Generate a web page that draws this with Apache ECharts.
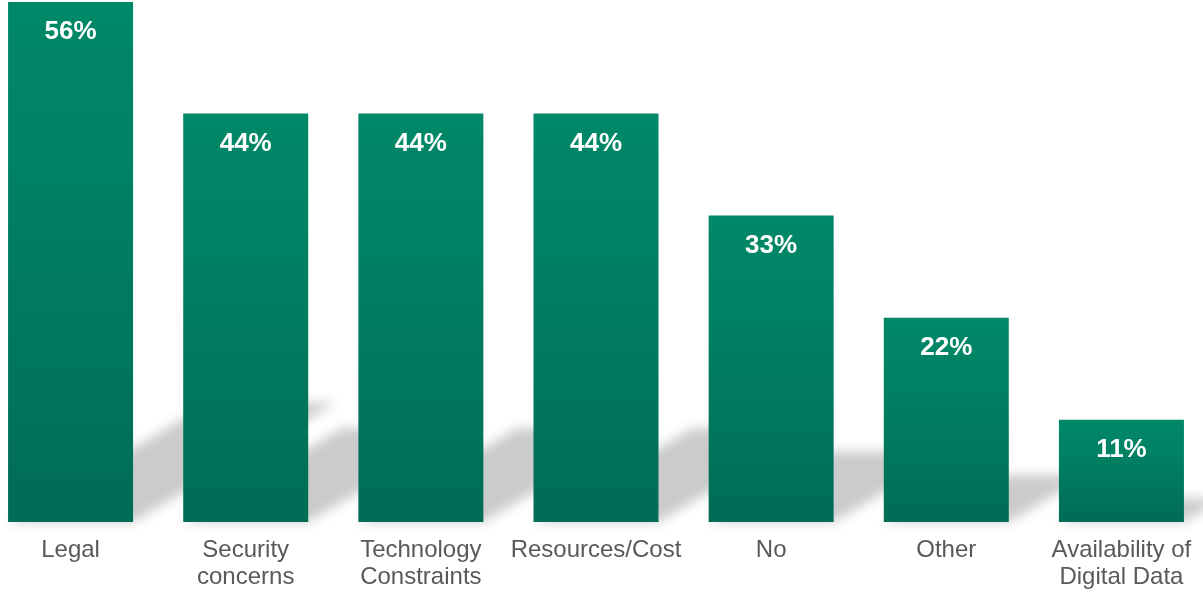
<!DOCTYPE html>
<html>
<head>
<meta charset="utf-8">
<script src="https://cdn.jsdelivr.net/npm/echarts@6/dist/echarts.min.js"></script>
<style>
  html, body { margin: 0; padding: 0; background: #ffffff; }
  #chart { width: 1203px; height: 592px; }
</style>
</head>
<body>
<div id="chart"></div>
<script>
// Reported barriers, share of respondents (%)
const categories = [
  'Legal',
  'Security\nconcerns',
  'Technology\nConstraints',
  'Resources/Cost',
  'No',
  'Other',
  'Availability of\nDigital Data'
];
const shares = [56, 44, 44, 44, 33, 22, 11];

const BAR_WIDTH = 125;
// Floor shadow geometry: horizontal drift and vertical squash relative to bar height
const SHADOW_DRIFT = 0.39;
const SHADOW_SQUASH = 0.23;
// The shadow shape is drawn off-canvas and only its blurred shadow is shifted back in view
const OFFSET = 3000;

const chart = echarts.init(document.getElementById('chart'), null, { renderer: 'canvas' });

function renderShadow(params, api) {
  const idx = api.value(0);
  const val = api.value(1);
  const base = api.coord([idx, 0]);
  const top = api.coord([idx, val]);
  const h = base[1] - top[1];
  const half = BAR_WIDTH / 2;
  const L = base[0] - half;
  const R = base[0] + half;
  const B = base[1];
  const dx = SHADOW_DRIFT * h;
  const dy = SHADOW_SQUASH * h;
  const pts = [
    [L + OFFSET, B],
    [R + OFFSET, B],
    [R + dx + OFFSET, B - dy],
    [L + dx + OFFSET, B - dy]
  ];
  return {
    type: 'polygon',
    shape: { points: pts },
    style: {
      fill: '#cccccc',
      shadowColor: '#cbcbcb',
      shadowBlur: 12,
      shadowOffsetX: -OFFSET,
      shadowOffsetY: 0
    },
    silent: true
  };
}

const option = {
  animation: false,
  backgroundColor: '#ffffff',
  grid: {
    left: -17,
    right: -6,
    top: 2,
    bottom: 70,
    outerBoundsMode: 'none',
    containLabel: false
  },
  xAxis: {
    type: 'category',
    data: categories,
    axisLine: { show: false },
    axisTick: { show: false },
    splitLine: { show: false },
    axisLabel: {
      interval: 0,
      margin: 15,
      color: '#595959',
      fontFamily: 'Liberation Sans, Arial, sans-serif',
      fontSize: 24,
      lineHeight: 27
    }
  },
  yAxis: {
    type: 'value',
    min: 0,
    max: 56,
    show: false,
    splitLine: { show: false }
  },
  series: [
    {
      type: 'custom',
      z: 1,
      clip: false,
      renderItem: renderShadow,
      data: shares.map((v, i) => [i, v]),
      encode: { x: 0, y: 1 },
      silent: true
    },
    {
      type: 'bar',
      z: 3,
      data: shares,
      barWidth: BAR_WIDTH,
      itemStyle: {
        color: new echarts.graphic.LinearGradient(0, 0, 0, 1, [
          { offset: 0, color: '#008868' },
          { offset: 0.3, color: '#008264' },
          { offset: 1, color: '#006c55' }
        ])
      },
      label: {
        show: true,
        position: 'insideTop',
        distance: 17,
        formatter: '{c}%',
        color: '#ffffff',
        fontFamily: 'Liberation Sans, Arial, sans-serif',
        fontWeight: 'bold',
        fontSize: 26
      }
    }
  ]
};

chart.setOption(option);
</script>
</body>
</html>
